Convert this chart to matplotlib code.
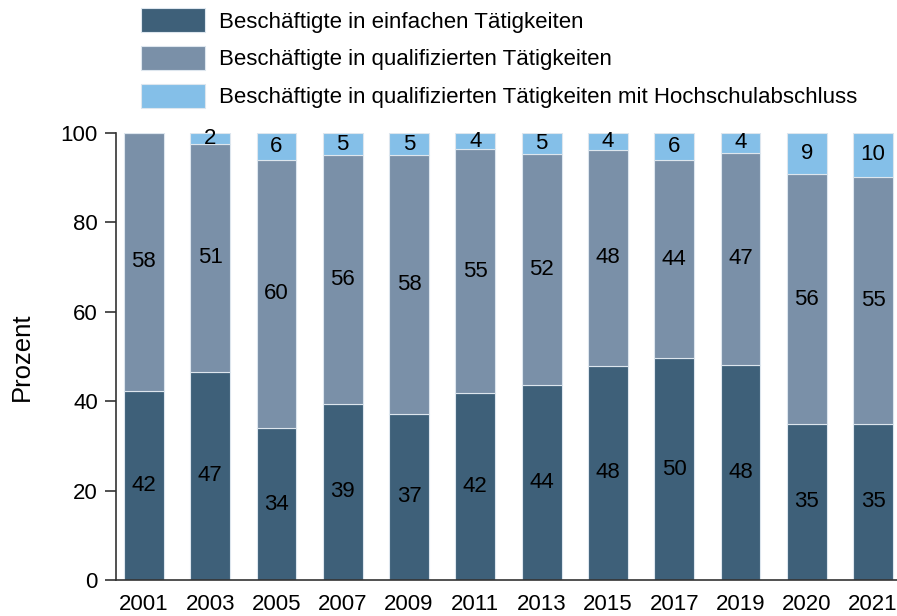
import matplotlib.pyplot as plt
import numpy as np

plt.rcParams['font.family'] = ['Liberation Sans', 'DejaVu Sans']

years = ['2001', '2003', '2005', '2007', '2009', '2011', '2013',
         '2015', '2017', '2019', '2020', '2021']
einfach = [42.3, 46.6, 34.0, 39.4, 37.2, 41.8, 43.6, 47.9, 49.6, 48.2, 34.9, 34.9]
qualifiziert = [57.7, 51.0, 60.0, 55.6, 57.8, 54.6, 51.6, 48.4, 44.4, 47.4, 55.9, 55.3]
hochschule = [0.0, 2.4, 6.0, 5.0, 5.0, 3.6, 4.8, 3.7, 6.0, 4.4, 9.2, 9.8]

series_names = ['Beschäftigte in einfachen Tätigkeiten',
                'Beschäftigte in qualifizierten Tätigkeiten',
                'Beschäftigte in qualifizierten Tätigkeiten mit Hochschulabschluss']
colors = ['#3e6079', '#7a90a8', '#84bfe8']

FS = 16

fig = plt.figure(figsize=(8.97, 6.16), dpi=100)
ax = fig.add_axes([116 / 897, 36 / 616, 781 / 897, 447 / 616])

x = np.arange(len(years))
bottom = np.zeros(len(years))
handles = []
for vals, col, name in zip([einfach, qualifiziert, hochschule], colors, series_names):
    vals = np.array(vals)
    bars = ax.bar(x, vals, 0.6, bottom=bottom, color=col, edgecolor='#dde6ee',
                  linewidth=0.8, label=name)
    handles.append(bars)
    for xi, b, v in zip(x, bottom, vals):
        if v > 0:
            ax.text(xi, b + v / 2, f"{v:.0f}", ha='center', va='center',
                    fontsize=FS, color='black')
    bottom += vals

ax.set_xlim(-0.42, 11.36)
ax.set_ylim(0, 100)
ax.set_xticks(x)
ax.set_xticklabels(years)
ax.set_yticks([0, 20, 40, 60, 80, 100])
ax.tick_params(axis='x', length=0, labelsize=FS, pad=10, colors='black')
ax.tick_params(axis='y', length=8, width=1.2, labelsize=FS, pad=5,
               colors='#333333', labelcolor='black')
ax.spines['top'].set_visible(False)
ax.spines['right'].set_visible(False)
for s in ['left', 'bottom']:
    ax.spines[s].set_color('#333333')
    ax.spines[s].set_linewidth(1.2)
ax.set_ylabel('Prozent', fontsize=18.5)
ax.yaxis.set_label_coords(-0.105, 0.5)

fig.legend(handles=handles, labels=series_names, loc='upper left',
           bbox_to_anchor=(141 / 897, 1 - 8 / 616), frameon=False, fontsize=FS,
           borderpad=0, borderaxespad=0, handlelength=2.9, handleheight=1.3,
           labelspacing=0.6, handletextpad=0.63)

fig.savefig('out.png', dpi=100)
